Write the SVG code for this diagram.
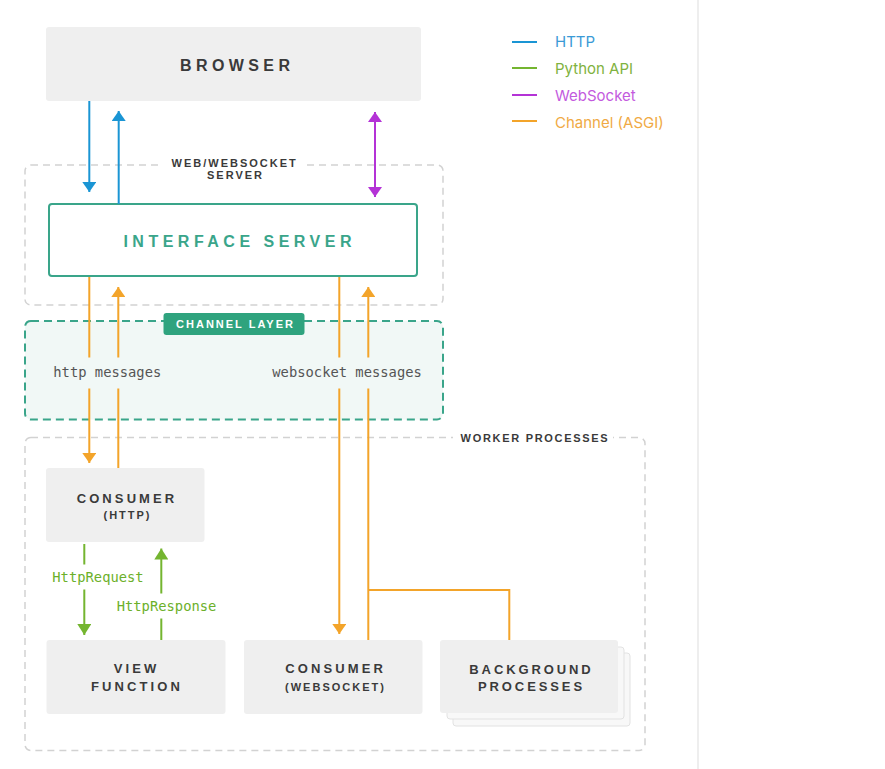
<svg xmlns="http://www.w3.org/2000/svg" width="885" height="769" viewBox="0 0 885 769">
<style>
.box{fill:#efefef}
.lbl{font-family:"Liberation Sans",Arial,sans-serif;font-weight:bold;fill:#3a3a3a;text-anchor:middle}
.big{font-size:16px;letter-spacing:4.4px}
.mid{font-size:13px;letter-spacing:3.1px}
.sm{font-size:11px;letter-spacing:2px}
.mono{font-family:"DejaVu Sans Mono","Liberation Mono",monospace;font-size:13.8px}
.grp{fill:none;stroke:#d2d2d2;stroke-width:1.5;stroke-dasharray:7 5}
.leg{font-family:Inter,"Liberation Sans",sans-serif;font-size:15px}
.http{stroke:#1a95d4;stroke-width:2;fill:none}
.py{stroke:#74b530;stroke-width:2;fill:none}
.ws{stroke:#b433d6;stroke-width:2;fill:none}
.ch{stroke:#f3a42a;stroke-width:2;fill:none}
</style>
<defs>
<marker id="aBlue" viewBox="0 0 10 14" refX="10" refY="7" markerWidth="10" markerHeight="14" markerUnits="userSpaceOnUse" orient="auto-start-reverse"><path d="M0,0 L10,7 L0,14 z" fill="#1a95d4"/></marker>
<marker id="aPurple" viewBox="0 0 10 14" refX="10" refY="7" markerWidth="10" markerHeight="14" markerUnits="userSpaceOnUse" orient="auto-start-reverse"><path d="M0,0 L10,7 L0,14 z" fill="#b433d6"/></marker>
<marker id="aOrange" viewBox="0 0 10 14" refX="10" refY="7" markerWidth="10" markerHeight="14" markerUnits="userSpaceOnUse" orient="auto-start-reverse"><path d="M0,0 L10,7 L0,14 z" fill="#f3a42a"/></marker>
<marker id="aGreen" viewBox="0 0 11 14" refX="11" refY="7" markerWidth="11" markerHeight="14" markerUnits="userSpaceOnUse" orient="auto-start-reverse"><path d="M0,0 L11,7 L0,14 z" fill="#74b530"/></marker>
</defs>
<rect width="885" height="769" fill="#ffffff"/>
<rect x="697" y="0" width="2" height="769" fill="#eeeeee"/>

<g id="legend">
<line x1="512" y1="42" x2="537" y2="42" class="http"/>
<line x1="512" y1="68" x2="537" y2="68" class="py"/>
<line x1="512" y1="95" x2="537" y2="95" class="ws"/>
<line x1="512" y1="121" x2="537" y2="121" class="ch"/>
<text x="555" y="47" class="leg" fill="#3a9ad6">HTTP</text>
<text x="555" y="74" class="leg" fill="#7fb240">Python API</text>
<text x="555" y="101" class="leg" fill="#c35ade">WebSocket</text>
<text x="555" y="128" class="leg" fill="#f0aa45">Channel (ASGI)</text>
</g>

<g id="web-websocket-server">
<rect x="25" y="165" width="418" height="140" rx="6" class="grp"/>
<rect x="158" y="158" width="146" height="14" fill="#ffffff"/>
<text x="234.7" y="167" class="lbl sm" fill="#444">WEB/WEBSOCKET</text>
<text x="235.5" y="179" class="lbl sm" fill="#444">SERVER</text>
</g>

<g id="channel-layer">
<rect x="25" y="321" width="418" height="98.5" rx="6" fill="#f1f8f6" stroke="#3aa58a" stroke-width="2" stroke-dasharray="8 5"/>
<rect x="163.5" y="313" width="141" height="22" rx="3" fill="#2fa37e"/>
<text x="235.5" y="328" class="lbl sm" style="fill:#ffffff">CHANNEL LAYER</text>
</g>

<g id="worker-processes">
<rect x="25" y="437.5" width="620" height="313" rx="6" class="grp"/>
<rect x="453" y="432" width="160" height="14" fill="#ffffff"/>
<text x="535" y="442" class="lbl sm" style="letter-spacing:1.7px" fill="#444">WORKER PROCESSES</text>
</g>

<g id="browser">
<rect x="46" y="27" width="375" height="74" rx="3" class="box"/>
<text x="237.2" y="71" class="lbl big">BROWSER</text>
</g>

<g id="interface-server">
<rect x="49" y="204" width="368" height="72" rx="3" fill="#ffffff" stroke="#3aa58a" stroke-width="2"/>
<text x="239.7" y="247" class="lbl big" style="fill:#3aa58a;letter-spacing:4.5px">INTERFACE SERVER</text>
</g>

<g id="consumer-http">
<rect x="46" y="468" width="158.5" height="74" rx="3" class="box"/>
<text x="127" y="503" class="lbl mid">CONSUMER</text>
<text x="127.5" y="518.5" class="lbl sm">(HTTP)</text>
</g>

<g id="view-function">
<rect x="46.5" y="640" width="179" height="74" rx="3" class="box"/>
<text x="136.6" y="672.5" class="lbl mid">VIEW</text>
<text x="137" y="690.5" class="lbl mid">FUNCTION</text>
</g>

<g id="consumer-websocket">
<rect x="244" y="640" width="178.5" height="74" rx="3" class="box"/>
<text x="335.6" y="672.5" class="lbl mid">CONSUMER</text>
<text x="335.5" y="690.5" class="lbl sm">(WEBSOCKET)</text>
</g>

<g id="background-processes">
<rect x="453" y="653" width="177" height="73" rx="3" fill="#f8f8f8" stroke="#e2e2e2" stroke-width="1"/>
<rect x="447" y="647" width="177" height="72" rx="3" fill="#f8f8f8" stroke="#e2e2e2" stroke-width="1"/>
<rect x="440" y="640" width="178" height="73" rx="3" class="box"/>
<text x="531.5" y="673.5" class="lbl mid" style="letter-spacing:2.9px">BACKGROUND</text>
<text x="531.5" y="691" class="lbl mid" style="letter-spacing:2.9px">PROCESSES</text>
</g>

<g id="connectors">
<path d="M89.3,101 V192" class="http" marker-end="url(#aBlue)"/>
<path d="M118.7,204 V111" class="http" marker-end="url(#aBlue)"/>
<path d="M375,112 V197" class="ws" marker-start="url(#aPurple)" marker-end="url(#aPurple)"/>

<path d="M89.3,277 V357.5 M89.3,388.5 V463" class="ch" marker-end="url(#aOrange)"/>
<path d="M118.3,468 V388.5 M118.3,357.5 V287" class="ch" marker-end="url(#aOrange)"/>
<path d="M339.3,277 V357.5 M339.3,388.5 V634" class="ch" marker-end="url(#aOrange)"/>
<path d="M368.3,640 V388.5 M368.3,357.5 V287" class="ch" marker-end="url(#aOrange)"/>
<path d="M368.3,590 H509.3 V640" class="ch"/>

<path d="M84.3,544 V564.5 M84.3,589.5 V635" class="py" marker-end="url(#aGreen)"/>
<path d="M161.3,640 V618.5 M161.3,593.5 V548.5" class="py" marker-end="url(#aGreen)"/>

<text x="53.3" y="377" class="mono" fill="#555">http messages</text>
<text x="272.3" y="377" class="mono" fill="#555">websocket messages</text>
<text x="52.3" y="582" class="mono" fill="#6cb02a">HttpRequest</text>
<text x="116.7" y="611" class="mono" fill="#6cb02a">HttpResponse</text>
</g>
</svg>
